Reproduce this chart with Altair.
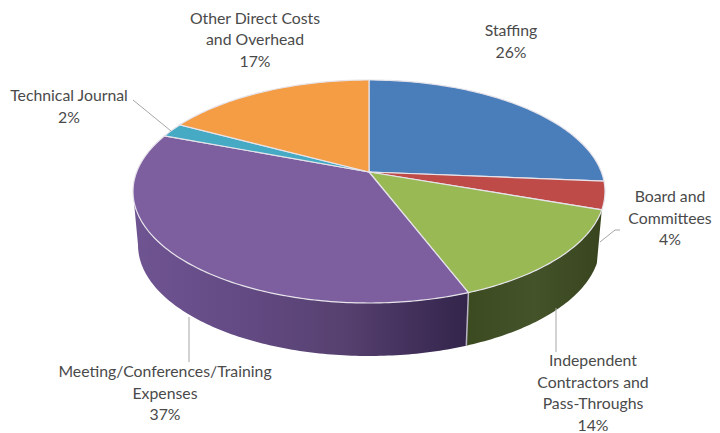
import math
import altair as alt

categories = ["Staffing", "Board and Committees", "Independent Contractors and Pass-Throughs",
              "Meeting/Conferences/Training Expenses", "Technical Journal",
              "Other Direct Costs and Overhead"]
shares = [26, 4, 14, 37, 2, 17]
face_colors = ["#4a7ebb", "#be4b48", "#98b954", "#7d5fa0", "#46aac5", "#f59d45"]

# Label layout: wrapped lines, then centre x and first-line y in page pixels
label_lines = [["Staffing"], ["Board and", "Committees"],
               ["Independent", "Contractors and", "Pass-Throughs"],
               ["Meeting/Conferences/Training", "Expenses"],
               ["Technical Journal"], ["Other Direct Costs", "and Overhead"]]
label_pos = [(511, 31), (670, 197), (593, 361), (165, 372), (69, 96), (255, 18.5)]

OFF = 8          # page margin
CX, CY, RX, RY = 369, 191.5, 236, 111.5     # top ellipse
AX, AY = 369, 172                           # apex of the wedges (perspective)
BY, BRX, BRY = 245, 231, 111                # bottom ellipse


def warp(theta):
    """Perspective: angle on the true disc -> parameter on the drawn ellipse."""
    return theta - 9 * math.sin(math.radians(theta))


def top(t):
    r = math.radians(t)
    return [CX + RX * math.sin(r) - OFF, CY - RY * math.cos(r) - OFF]


def bottom(t):
    r = math.radians(t)
    return [CX + BRX * math.sin(r) - OFF, BY - BRY * math.cos(r) - OFF]


def span(a, b, step=1.0):
    n = max(2, int(abs(b - a) / step) + 1)
    return [a + (b - a) * i / (n - 1) for i in range(n)]


def polygon(coords):
    return {"type": "Feature", "properties": {},
            "geometry": {"type": "Polygon", "coordinates": [coords + [coords[0]]]}}


def line(coords):
    return {"type": "Feature", "properties": {},
            "geometry": {"type": "LineString", "coordinates": coords}}


edges = [0]
for s in shares:
    edges.append(edges[-1] + s * 3.6)
params = [warp(e) for e in edges]


def shape(feature, **mark):
    return alt.Chart(alt.Data(values=[feature])).mark_geoshape(**mark).project(
        type="identity", scale=1, translate=[0, 0])


def grad(stops):
    return alt.LinearGradient(gradient="linear", x1=0, x2=1, y1=0, y2=0,
                              stops=[alt.GradientStop(color=c, offset=o) for o, c in stops])


def wall(t1, t2):
    return polygon([top(t) for t in span(t1, t2)] + [bottom(t) for t in span(t2, t1)])


layers = []
# Side walls
layers.append(shape(wall(params[3], 270), fill=grad([(0, "#6f5492"), (0.3, "#644b85"),
                                                     (0.62, "#574170"), (0.88, "#3e2d57"),
                                                     (1, "#33254a")]),
                    stroke=None, strokeWidth=0))
layers.append(shape(wall(params[2], params[3]), fill=grad([(0, "#3c4a20"), (0.5, "#44532a"),
                                                           (1, "#38441e")]),
                    stroke=None, strokeWidth=0))
# Pale seam between the two walls
layers.append(shape(line([top(params[3]), bottom(params[3])]), filled=False,
                    stroke="#b9b3c4", strokeWidth=1.5))
# Top faces
for i, c in enumerate(face_colors):
    pts = [[AX - OFF, AY - OFF]] + [top(t) for t in span(params[i], params[i + 1])]
    layers.append(shape(polygon(pts), fill=c, stroke="#e6e3ea", strokeWidth=1.2))

# Leader lines
leaders = [[(133, 100), (171, 131)], [(620, 230), (615, 230), (600, 242)],
           [(556, 308), (556, 352)], [(189, 317), (189, 362)]]
for seg in leaders:
    layers.append(shape(line([[x - OFF, y - OFF] for x, y in seg]), filled=False,
                        stroke="#a6a6a6", strokeWidth=1))

# Labels
for lines, share, (x, y) in zip(label_lines, shares, label_pos):
    txt = lines + [f"{share}%"]
    layers.append(alt.Chart(alt.Data(values=[{"a": 1}])).mark_text(
        font="Lato", fontSize=15.8, color="#4a4a4a", align="center", baseline="middle",
        lineHeight=21.5, text=txt).encode(x=alt.value(x - OFF), y=alt.value(y - OFF)))

chart = alt.layer(*layers).properties(
    width=704, height=425, padding=0, autosize=alt.AutoSizeParams(type="none"),
    background="white").configure_view(stroke=None)
chart.save("out.html", embed_options={"renderer": "svg", "actions": False})
